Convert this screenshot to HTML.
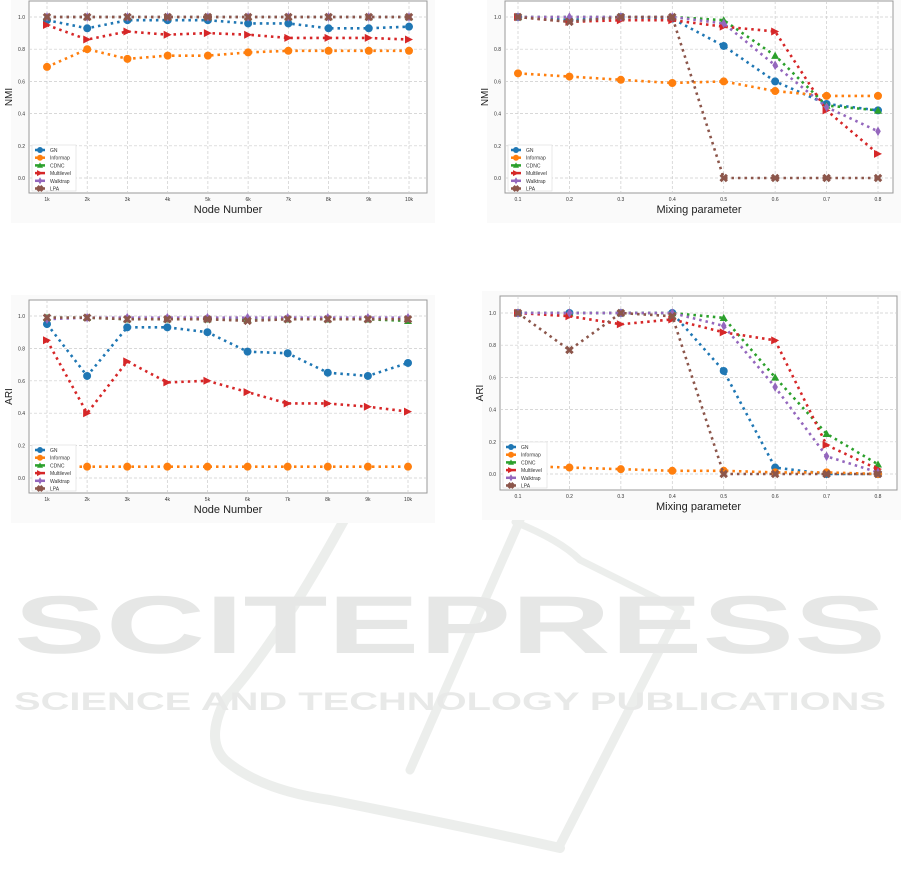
<!DOCTYPE html><html><head><meta charset="utf-8"><style>body{margin:0;background:#fff;width:901px;height:884px;overflow:hidden;font-family:"Liberation Sans",sans-serif}</style></head><body>
<svg id="s" width="901" height="884" xmlns="http://www.w3.org/2000/svg" font-family="Liberation Sans, sans-serif">
<g fill="none" stroke="#eceeec" stroke-linecap="round">
<path d="M355,500 Q280,640 225,700 Q205,740 225,760 Q260,790 330,800 Q480,830 560,848" stroke-width="10"/>
<path d="M520,520 L410,770" stroke-width="9"/>
<path d="M515,522 Q560,540 580,560 L680,610" stroke-width="7"/>
<path d="M680,610 L560,845" stroke-width="9"/>
</g>
<text x="450" y="653" font-size="82" font-weight="bold" text-anchor="middle" textLength="872" lengthAdjust="spacingAndGlyphs" fill="#e6e7e6">SCITEPRESS</text>
<text x="450" y="710" font-size="25" font-weight="bold" text-anchor="middle" textLength="872" lengthAdjust="spacingAndGlyphs" fill="#e8e9e8">SCIENCE AND TECHNOLOGY PUBLICATIONS</text>
</svg>
<script>
const s=document.getElementById('s');const NS='http://www.w3.org/2000/svg';
function el(t,a,p){const e=document.createElementNS(NS,t);for(const k in a)e.setAttribute(k,a[k]);(p||s).appendChild(e);return e}
const C=['#1f77b4','#ff7f0e','#2ca02c','#d62728','#9467bd','#8c564b'];
const N=['GN','Informap','CDNC','Multilevel','Walktrap','LPA'];
function mk(g,i,x,y,r){r=r||4;const c=C[i];
 if(i==0||i==1)el('circle',{cx:x,cy:y,r:r,fill:c},g);
 else if(i==2)el('polygon',{points:`${x},${y-r} ${x+r},${y+r*.8} ${x-r},${y+r*.8}`,fill:c},g);
 else if(i==3)el('polygon',{points:`${x+r},${y} ${x-r},${y-r} ${x-r},${y+r}`,fill:c},g);
 else if(i==4)el('polygon',{points:`${x},${y-r*1.2} ${x+r*.7},${y} ${x},${y+r*1.2} ${x-r*.7},${y}`,fill:c},g);
 else{el('path',{d:`M${x-r*.8},${y-r*.8}L${x+r*.8},${y+r*.8}M${x+r*.8},${y-r*.8}L${x-r*.8},${y+r*.8}`,stroke:c,'stroke-width':3},g)}}
function chart(o){const g=el('g',{});
 el('rect',{x:o.L-18,y:o.T-5,width:o.R-o.L+26,height:o.B-o.T+35,fill:'#fafafa'},g);
 el('rect',{x:o.L,y:o.T,width:o.R-o.L,height:o.B-o.T,fill:'#fff',stroke:'#999','stroke-width':1},g);
 const Y=v=>o.y0+(o.y1-o.y0)*v, n=o.xl.length, X=i=>o.x0+(o.x1-o.x0)*i/(n-1);
 for(let k=0;k<=5;k++){const y=Y(k/5);el('line',{x1:o.L,x2:o.R,y1:y,y2:y,stroke:'#ccc','stroke-dasharray':'3,2','stroke-width':.7},g);
  el('text',{x:o.L-4,y:y+2,'font-size':5,'text-anchor':'end',fill:'#333'},g).textContent=(k/5).toFixed(1);}
 o.xl.forEach((l,i)=>{el('line',{x1:X(i),x2:X(i),y1:o.T,y2:o.B,stroke:'#ccc','stroke-dasharray':'3,2','stroke-width':.7},g);
  el('text',{x:X(i),y:o.B+8,'font-size':5,'text-anchor':'middle',fill:'#333'},g).textContent=l;});
 el('text',{x:(o.L+o.R)/2,y:o.B+20,'font-size':11,'text-anchor':'middle',fill:'#222'},g).textContent=o.xt;
 const ty=(o.T+o.B)/2;el('text',{x:o.L-17,y:ty,'font-size':10,'text-anchor':'middle',fill:'#222',transform:`rotate(-90 ${o.L-17} ${ty})`},g).textContent=o.yt;
 o.d.forEach((d,i)=>{el('polyline',{points:d.map((v,j)=>X(j)+','+Y(v)).join(' '),fill:'none',stroke:C[i],'stroke-width':2.6,'stroke-dasharray':'2.5,4','stroke-linecap':'butt'},g);
  d.forEach((v,j)=>mk(g,i,X(j),Y(v)));});
 const lx=o.L+3,ly=o.B-48;el('rect',{x:lx,y:ly,width:44,height:46,fill:'#fff',stroke:'#ddd','stroke-width':.6},g);
 N.forEach((nm,i)=>{const y=ly+5+i*7.7;el('line',{x1:lx+3,x2:lx+13,y1:y,y2:y,stroke:C[i],'stroke-width':2.5},g);mk(g,i,lx+8,y,3);
  el('text',{x:lx+18,y:y+2,'font-size':5,fill:'#333'},g).textContent=nm;});}
const nk=['1k','2k','3k','4k','5k','6k','7k','8k','9k','10k'],mx=['0.1','0.2','0.3','0.4','0.5','0.6','0.7','0.8'];
const one=Array(10).fill(1);
chart({L:29,R:427,T:1,B:193,y1:17,y0:178,x0:47,x1:409,xl:nk,xt:'Node Number',yt:'NMI',d:[
[.98,.93,.98,.98,.98,.96,.96,.93,.93,.94],[.69,.80,.74,.76,.76,.78,.79,.79,.79,.79],one,
[.95,.86,.91,.89,.90,.89,.87,.87,.87,.86],one,one]});
chart({L:505,R:893,T:1,B:193,y1:17,y0:178,x0:518,x1:878,xl:mx,xt:'Mixing parameter',yt:'NMI',d:[
[1,.98,1,.99,.82,.60,.46,.42],[.65,.63,.61,.59,.60,.54,.51,.51],[1,1,1,1,.98,.76,.45,.42],
[1,.97,.98,.98,.94,.91,.42,.15],[1,1,1,1,.96,.70,.44,.29],[1,.97,1,1,0,0,0,0]]});
chart({L:29,R:427,T:300,B:493,y1:316,y0:478,x0:47,x1:408,xl:nk,xt:'Node Number',yt:'ARI',d:[
[.95,.63,.93,.93,.90,.78,.77,.65,.63,.71],Array(10).fill(.07),[.99,.99,.98,.98,.98,.98,.98,.98,.98,.97],
[.85,.40,.72,.59,.60,.53,.46,.46,.44,.41],[.98,.99,.99,.99,.99,.99,.99,.99,.99,.99],[.99,.99,.98,.98,.98,.97,.98,.98,.98,.98]]});
chart({L:500,R:897,T:296,B:490,y1:313,y0:474,x0:518,x1:878,xl:mx,xt:'Mixing parameter',yt:'ARI',d:[
[1,1,1,1,.64,.04,0,0],[.05,.04,.03,.02,.02,.01,.01,0],[1,1,1,1,.97,.60,.25,.06],
[1,.98,.93,.96,.88,.83,.18,.03],[1,1,1,1,.92,.54,.11,.01],[1,.77,1,.98,0,0,0,0]]});
</script></body></html>
